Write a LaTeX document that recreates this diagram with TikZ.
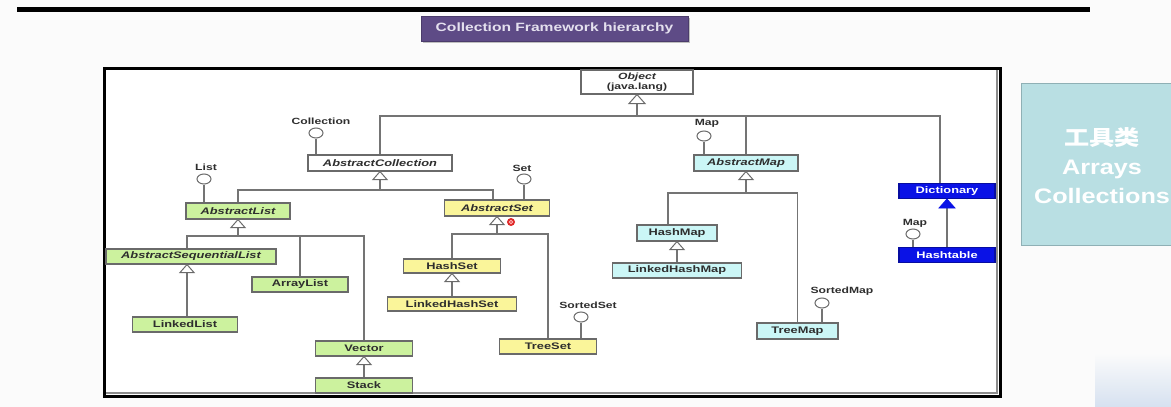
\documentclass[tikz,border=0pt]{standalone}
\usepackage{fontspec}
\usetikzlibrary{calc,shapes.geometric}
\newfontfamily\boxfont[FakeStretch=1.35]{Liberation Sans}
\newfontfamily\ttlfont[FakeStretch=1.3]{Liberation Sans}
\newfontfamily\bigfont[FakeStretch=1.2]{Liberation Sans}
\newfontfamily\cjkfont[FakeStretch=1.2]{Noto Sans CJK SC}
\definecolor{cgreen}{HTML}{CCF29E}
\definecolor{cyellow}{HTML}{FAF59A}
\definecolor{ccyan}{HTML}{CBF6F6}
\definecolor{cblue}{HTML}{0A12E6}
\definecolor{cedge}{HTML}{6A6A6A}
\definecolor{cline}{HTML}{747474}
\definecolor{ctitle}{HTML}{5E4B86}
\definecolor{ctitletxt}{HTML}{E4E0EE}
\definecolor{ctool}{HTML}{B9DFE3}
\definecolor{ctoolb}{HTML}{8FB0B5}
\definecolor{ctext}{HTML}{2E2E2E}
\definecolor{cbg}{HTML}{FBFBFB}
\begin{document}
\begin{tikzpicture}[x=1pt,y=-1pt,
  cls/.style={draw=cedge, line width=1.1pt, inner sep=0pt, text=ctext,
    font={\boxfont\bfseries\fontsize{9.5}{11}\selectfont}},
  abs/.style={cls, font={\boxfont\bfseries\itshape\fontsize{9.5}{11}\selectfont}},
  green/.style={fill=cgreen},
  yellow/.style={fill=cyellow},
  cyanbox/.style={fill=ccyan},
  bluebox/.style={cls, fill=cblue, draw=cblue!70!black, text=white},
  line/.style={draw=cline, line width=1.3pt},
  tri/.style={draw=cedge, line width=1pt, fill=white, line join=miter},
  ifc/.style={ellipse, draw=cedge, line width=1pt, fill=white, minimum width=14pt, minimum height=10pt, inner sep=0pt},
  lbl/.style={inner sep=0pt, text=ctext, font={\boxfont\bfseries\fontsize{9}{10}\selectfont}}
]
\useasboundingbox (0,0) rectangle (1171,407);
\fill[cbg] (0,0) rectangle (1171,407);
\shade[top color=cbg, bottom color={rgb,255:red,214;green,225;blue,240}] (1095,353) rectangle (1171,407);

% top rule and title
\draw[line width=5pt, black] (17,9.5) -- (1090,9.5);
\fill[black!25] (423,18) rectangle (690,43);
\node[fill=ctitle, draw=ctitle!80!black, line width=0.6pt, minimum width=267pt, minimum height=25pt, inner sep=0pt,
  text=ctitletxt, font={\ttlfont\bfseries\fontsize{12}{13}\selectfont}] (title) at (554.5,28.5) {Collection Framework hierarchy};

% frame
\fill[white] (104,68) rectangle (1000,396);
\draw[black!45, line width=2pt] (997,70) -- (997,393) -- (106,393);
\draw[black, line width=3pt] (104,68) rectangle (1000,396);

% tool box
\node[fill=ctool, draw=ctoolb, line width=1pt, minimum width=152pt, minimum height=162pt, inner sep=0pt] (tool) at (1097,164) {};
\node[align=center, text=white, inner sep=0pt, font={\bigfont\bfseries\fontsize{21}{29}\selectfont}] (tooltxt) at (1102,166)
  {{\cjkfont\bfseries 工具类}\\ Arrays\\ Collections};

% class boxes
\node[cls, fill=white, minimum width=112pt, minimum height=24pt, align=center, font={\boxfont\bfseries\fontsize{9}{10.5}\selectfont}] (obj) at (637,82)
  {{\itshape Object}\\(java.lang)};
\node[abs, fill=white, minimum width=144pt, minimum height=16pt] (ac) at (380,163) {AbstractCollection};
\node[abs, cyanbox, minimum width=104pt, minimum height=16pt] (am) at (746,163) {AbstractMap};
\node[bluebox, minimum width=96pt, minimum height=15pt] (dict) at (947,191) {Dictionary};
\node[bluebox, minimum width=96pt, minimum height=15pt] (ht) at (947,255) {Hashtable};
\node[abs, green, minimum width=104pt, minimum height=16pt] (al) at (238,211) {AbstractList};
\node[abs, yellow, minimum width=105pt, minimum height=16pt] (as) at (497,208) {AbstractSet};
\node[abs, green, minimum width=170pt, minimum height=15pt] (asl) at (191,256.5) {AbstractSequentialList};
\node[cls, green, minimum width=105pt, minimum height=15pt] (ll) at (185,324.5) {LinkedList};
\node[cls, green, minimum width=96pt, minimum height=15pt] (arl) at (300,284.5) {ArrayList};
\node[cls, green, minimum width=97pt, minimum height=15pt] (vec) at (364,348.5) {Vector};
\node[cls, green, minimum width=97pt, minimum height=15pt] (stk) at (364,385.5) {Stack};
\node[cls, yellow, minimum width=97pt, minimum height=14pt] (hs) at (452,266) {HashSet};
\node[cls, yellow, minimum width=129pt, minimum height=14pt] (lhs) at (452,304) {LinkedHashSet};
\node[cls, yellow, minimum width=97pt, minimum height=15pt] (ts) at (548,346.5) {TreeSet};
\node[cls, cyanbox, minimum width=80pt, minimum height=16pt] (hm) at (677,233) {HashMap};
\node[cls, cyanbox, minimum width=129pt, minimum height=15pt] (lhm) at (677,270.5) {LinkedHashMap};
\node[cls, cyanbox, minimum width=81pt, minimum height=16pt] (tm) at (797.5,331) {TreeMap};

% interfaces (lollipops)
\node[ifc] (iColl) at (316,133) {};
\node[lbl] (lColl) at (321,121.5) {Collection};
\node[ifc] (iList) at (204,179) {};
\node[lbl] (lList) at (206,167) {List};
\node[ifc] (iSet) at (524,179) {};
\node[lbl] (lSet) at (522,168) {Set};
\node[ifc] (iMap) at (704,136) {};
\node[lbl] (lMap) at (707,123.5) {Map};
\node[ifc] (iMap2) at (913,234) {};
\node[lbl] (lMap2) at (915,223) {Map};
\node[ifc] (iSS) at (581,317) {};
\node[lbl] (lSS) at (588,305) {SortedSet};
\node[ifc] (iSM) at (822,303) {};
\node[lbl] (lSM) at (842,291) {SortedMap};

\draw[line] (iColl.south) -- (iColl.south |- ac.north);
\draw[line] (iList.south) -- (iList.south |- al.north);
\draw[line] (iSet.south) -- (iSet.south |- as.north);
\draw[line] (iMap.south) -- (iMap.south |- am.north);
\draw[line] (iMap2.south) -- (iMap2.south |- ht.north);
\draw[line] (iSS.south) -- (iSS.south |- ts.north);
\draw[line] (iSM.south) -- (iSM.south |- tm.north);

% helper coordinates
\coordinate (bus0) at (0,116);
\coordinate (bus1) at (0,190);
\coordinate (bus2) at (0,236);
\coordinate (bus3) at (0,234);
\coordinate (bus4) at (0,193);
\coordinate (obj-b) at ($(obj.south)+(0,9)$);
\coordinate (ac-b) at ($(ac.south)+(0,8)$);
\coordinate (am-b) at ($(am.south)+(0,8)$);
\coordinate (al-b) at ($(al.south)+(0,8)$);
\coordinate (as-b) at ($(as.south)+(0,8)$);
\coordinate (asl-o) at ($(asl.south)+(-4,0)$);
\coordinate (asl-b) at ($(asl.south)+(-4,8)$);
\coordinate (vec-b) at ($(vec.south)+(0,8)$);
\coordinate (hs-b) at ($(hs.south)+(0,8)$);
\coordinate (hm-b) at ($(hm.south)+(0,8)$);
\coordinate (dict-b) at ($(dict.south)+(0,9)$);
\coordinate (dict-in) at ($(dict.north)+(-7,0)$);
\coordinate (asl-in) at ($(asl.north)+(-4,0)$);
\coordinate (as-in) at ($(as.north)+(-4,0)$);
\coordinate (hm-in) at ($(hm.north)+(-9,0)$);

% generalisation connectors
\draw[line] (obj-b) -- (obj-b |- bus0);
\draw[line] (ac.north) -- (ac.north |- bus0) -- (dict-in |- bus0) -- (dict-in);
\draw[line] (am.north) -- (am.north |- bus0);

\draw[line] (ac-b) -- (ac-b |- bus1);
\draw[line] (al.north) -- (al.north |- bus1) -- (as-in |- bus1) -- (as-in);

\draw[line] (al-b) -- (al-b |- bus2);
\draw[line] (asl-in) -- (asl-in |- bus2) -- (vec.north |- bus2) -- (vec.north);
\draw[line] (arl.north) -- (arl.north |- bus2);
\draw[line] (asl-b) -- (asl-b |- ll.north);
\draw[line] (vec-b) -- (vec-b |- stk.north);

\draw[line] (as-b) -- (as-b |- bus3);
\draw[line] (hs.north) -- (hs.north |- bus3) -- (ts.north |- bus3) -- (ts.north);
\draw[line] (hs-b) -- (hs-b |- lhs.north);

\draw[line] (am-b) -- (am-b |- bus4);
\draw[line] (hm-in) -- (hm-in |- bus4) -- (tm.north |- bus4) -- (tm.north);
\draw[line] (hm-b) -- (hm-b |- lhm.north);

\draw[line] (dict-b) -- (dict-b |- ht.north);

% triangles
\draw[tri] (obj.south) -- ++(8,9) -- ++(-16,0) -- cycle;
\draw[tri] (ac.south) -- ++(7,8) -- ++(-14,0) -- cycle;
\draw[tri] (am.south) -- ++(7,8) -- ++(-14,0) -- cycle;
\draw[tri] (al.south) -- ++(7,8) -- ++(-14,0) -- cycle;
\draw[tri] (as.south) -- ++(7,8) -- ++(-14,0) -- cycle;
\draw[tri] (asl-o) -- ++(7,8) -- ++(-14,0) -- cycle;
\draw[tri] (vec.south) -- ++(7,8) -- ++(-14,0) -- cycle;
\draw[tri] (hs.south) -- ++(7,8) -- ++(-14,0) -- cycle;
\draw[tri] (hm.south) -- ++(7,8) -- ++(-14,0) -- cycle;
\draw[draw=cblue, fill=cblue, line width=0.8pt] (dict.south) -- ++(8,9) -- ++(-16,0) -- cycle;

% cursor mark
\node[circle, fill=red!85!black, fill opacity=0.85, minimum size=8pt, inner sep=0pt] (cursor) at (511,222) {};
\draw[white!70!red, line width=0.8pt] (cursor.center) circle (1.8);
\end{tikzpicture}
\end{document}
